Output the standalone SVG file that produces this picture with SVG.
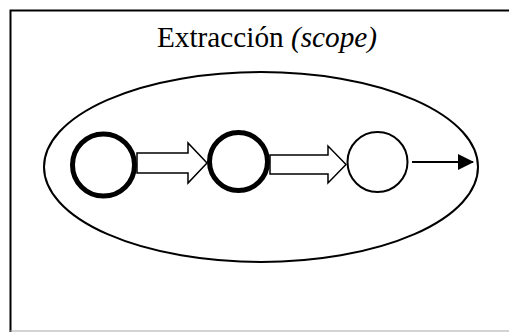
<svg xmlns="http://www.w3.org/2000/svg" width="509" height="332" viewBox="0 0 509 332">
<style>
.frame{fill:none;stroke:#000;stroke-width:2}
.scope{fill:none;stroke:#000;stroke-width:2}
.thick{fill:#fff;stroke:#000;stroke-width:5}
.thin{fill:#fff;stroke:#000;stroke-width:2}
.block{fill:#fff;stroke:#000;stroke-width:1.5;stroke-linejoin:miter}
.line{fill:none;stroke:#000;stroke-width:2}
.title{font-family:"Liberation Serif",serif;font-size:28.5px;fill:#000}
</style>
<defs>
<marker id="ah" markerWidth="16" markerHeight="16" refX="15" refY="8" orient="auto" markerUnits="userSpaceOnUse">
<path d="M0,0 L16,8 L0,16 Z" fill="#000"/>
</marker>
</defs>
<rect width="509" height="332" fill="#fff"/>
<path d="M510,10.5 H10.5 V332" class="frame"/>
<line x1="10" y1="331" x2="509" y2="331" stroke="#aaa" stroke-width="1.2"/>
<text class="title" x="267" y="47" text-anchor="middle" textLength="220" lengthAdjust="spacingAndGlyphs">Extracción <tspan font-style="italic">(scope)</tspan></text>
<g id="scope"><ellipse cx="261" cy="167" rx="217" ry="95" class="scope"/></g>
<g id="connectors">
<path class="block" d="M137,153 H188 V143 L207,163 L188,183 V173 H137 Z"/>
<path class="block" d="M270,155 H328 V146 L346,164.5 L328,183 V174 H270 Z"/>
<line class="line" x1="412" y1="162" x2="473" y2="162" marker-end="url(#ah)"/>
</g>
<g id="n1"><circle cx="103.5" cy="165" r="31" class="thick"/></g>
<g id="n2"><circle cx="238.5" cy="161.5" r="29" class="thick"/></g>
<g id="n3"><circle cx="377.5" cy="162" r="30" class="thin"/></g>
</svg>
